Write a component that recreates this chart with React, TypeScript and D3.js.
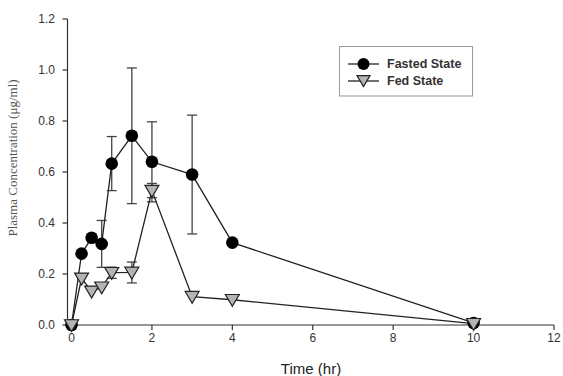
import React from 'react';
import * as d3 from 'd3';

// Sampling times (hr)
const times = [0, 0.25, 0.5, 0.75, 1, 1.5, 2, 3, 4, 10];

// Fasted state: mean and error (SD), 0 = no bar
const fastedMean = [0, 0.28, 0.342, 0.318, 0.633, 0.742, 0.64, 0.59, 0.323, 0.008];
const fastedErr = [0, 0, 0, 0.092, 0.106, 0.266, 0.157, 0.233, 0, 0];

// Fed state
const fedMean = [0, 0.183, 0.132, 0.148, 0.205, 0.206, 0.527, 0.111, 0.099, 0.005];
const fedErr = [0, 0, 0, 0, 0.022, 0.041, 0.028, 0, 0, 0];

const xTicks = [0, 2, 4, 6, 8, 10, 12];
const yTicks = [0, 0.2, 0.4, 0.6, 0.8, 1.0, 1.2];

const W = 563;
const H = 376;

const App: React.FC = () => {
  const x = d3.scaleLinear().domain([-0.1, 12]).range([67.5, 554]);
  const y = d3.scaleLinear().domain([0, 1.2]).range([325, 19]);

  const line = d3.line<number>()
    .x((_, i) => x(times[i]))
    .y(d => y(d));

  const tri = (cx: number, cy: number, s = 7) =>
    `M${cx - s},${cy - s * 0.75}L${cx + s},${cy - s * 0.75}L${cx},${cy + s * 0.95}Z`;

  const errBars = (mean: number[], err: number[], key: string) =>
    mean.map((m, i) => {
      if (!err[i]) return null;
      const cx = x(times[i]);
      const y1 = y(m + err[i]);
      const y2 = y(m - err[i]);
      return (
        <g key={`${key}-${i}`} stroke="#444" strokeWidth={1.3}>
          <line x1={cx} x2={cx} y1={y1} y2={y2} />
          <line x1={cx - 5} x2={cx + 5} y1={y1} y2={y1} />
          <line x1={cx - 5} x2={cx + 5} y1={y2} y2={y2} />
        </g>
      );
    });

  return (
    <svg width={W} height={H} style={{ position: 'absolute', left: 0, top: 0, background: '#fff' }}>
      <rect width={W} height={H} fill="#fff" />

      {/* axes */}
      <g stroke="#333" strokeWidth={1.2} fill="none">
        <line x1={x(-0.1)} x2={x(-0.1)} y1={y(1.2)} y2={y(0)} />
        <line x1={x(-0.1)} x2={x(12)} y1={y(0)} y2={y(0)} />
        {yTicks.map(t => (
          <line key={`yt${t}`} x1={x(-0.1) - 5} x2={x(-0.1)} y1={y(t)} y2={y(t)} />
        ))}
        {xTicks.map(t => (
          <line key={`xt${t}`} x1={x(t)} x2={x(t)} y1={y(0)} y2={y(0) + 5} />
        ))}
      </g>
      <g fontFamily="Arial, 'Liberation Sans', sans-serif" fontSize={12} fill="#333">
        {yTicks.map(t => (
          <text key={`yl${t}`} x={55} y={y(t)} dy="0.35em" textAnchor="end">
            {t.toFixed(1)}
          </text>
        ))}
        {xTicks.map(t => (
          <text key={`xl${t}`} x={x(t)} y={y(0) + 17} textAnchor="middle">
            {t}
          </text>
        ))}
      </g>
      <text x={311} y={374} textAnchor="middle" fontFamily="Arial, 'Liberation Sans', sans-serif" fontSize={15} fill="#222">
        Time (hr)
      </text>
      <text
        transform={`translate(17, ${(y(0) + y(1.2)) / 2 - 14}) rotate(-90)`}
        textAnchor="middle"
        fontFamily="'Liberation Serif', 'Times New Roman', serif"
        fontSize={13}
        fill="#555"
      >
        Plasma Concentration (μg/ml)
      </text>

      {/* error bars */}
      {errBars(fastedMean, fastedErr, 'fa')}
      {errBars(fedMean, fedErr, 'fe')}

      {/* lines */}
      <path d={line(fastedMean) || ''} fill="none" stroke="#222" strokeWidth={1.3} />
      <path d={line(fedMean) || ''} fill="none" stroke="#222" strokeWidth={1.3} />

      {/* markers */}
      {fastedMean.map((m, i) => (
        <circle key={`fc${i}`} cx={x(times[i])} cy={y(m)} r={6.3} fill="#000" />
      ))}
      {fedMean.map((m, i) => (
        <path key={`ft${i}`} d={tri(x(times[i]), y(m))} fill="#b4b4b4" stroke="#222" strokeWidth={1.2} />
      ))}

      {/* legend */}
      <g>
        <rect x={339.5} y={46.5} width={133} height={49.5} fill="#fff" stroke="#999" strokeWidth={1} />
        <line x1={348} x2={379} y1={64} y2={64} stroke="#222" strokeWidth={1.3} />
        <circle cx={363.5} cy={64} r={6} fill="#000" />
        <line x1={348} x2={379} y1={81} y2={81} stroke="#222" strokeWidth={1.3} />
        <path d={tri(363.5, 80.5, 6.5)} fill="#b4b4b4" stroke="#222" strokeWidth={1.2} />
        <g fontFamily="Arial, 'Liberation Sans', sans-serif" fontSize={12.5} fontWeight="bold" fill="#333">
          <text x={387} y={68}>Fasted State</text>
          <text x={387} y={85}>Fed State</text>
        </g>
      </g>
    </svg>
  );
};

export default App;
